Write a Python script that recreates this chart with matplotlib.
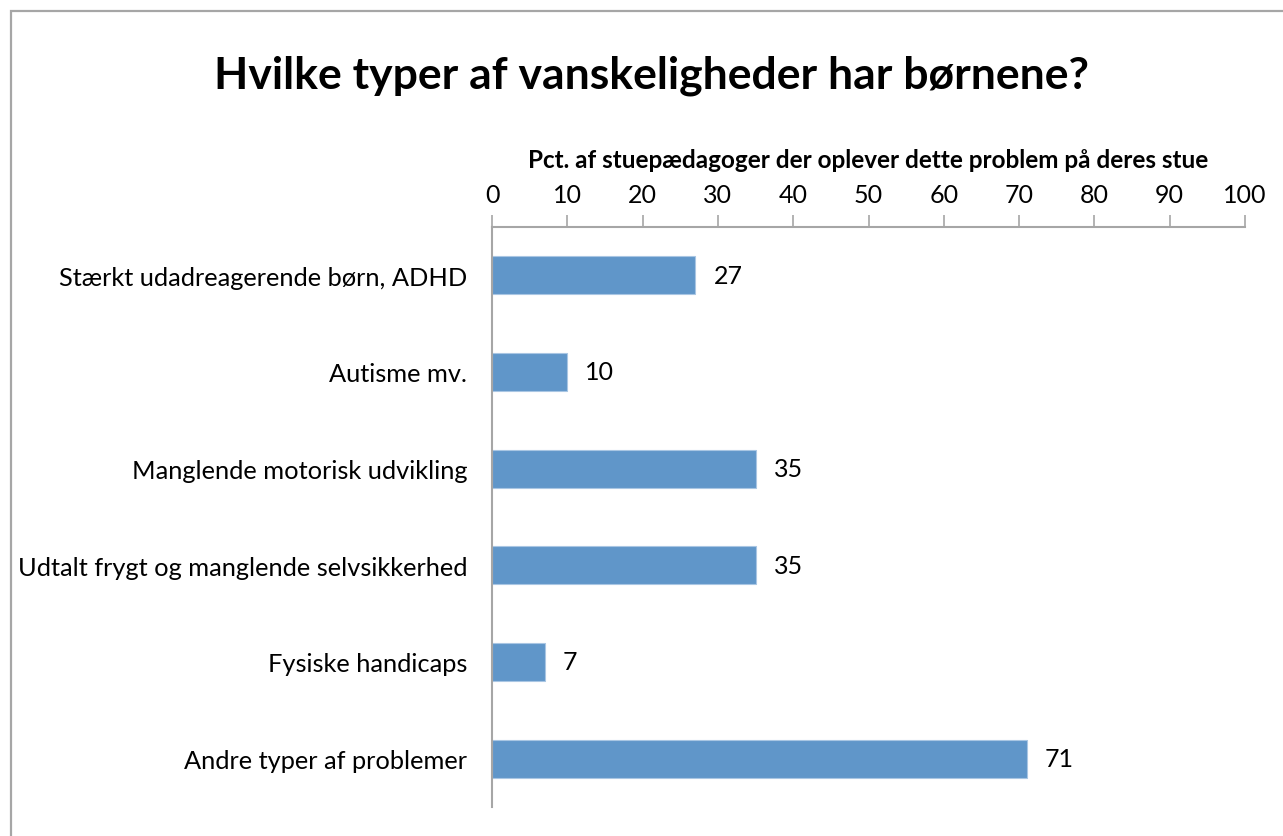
import matplotlib
matplotlib.use('Agg')
import matplotlib.pyplot as plt
from matplotlib.patches import Rectangle

# Survey results: share of room pedagogues who see each problem
categories = [
    "Stærkt udadreagerende børn, ADHD",
    "Autisme mv.",
    "Manglende motorisk udvikling",
    "Udtalt frygt og manglende selvsikkerhed",
    "Fysiske handicaps",
    "Andre typer af problemer",
]
values = [27, 10, 35, 35, 7, 71]
x_ticks = [0, 10, 20, 30, 40, 50, 60, 70, 80, 90, 100]

title = "Hvilke typer af vanskeligheder har børnene?"
x_label = "Pct. af stuepædagoger der oplever dette problem på deres stue"

plt.rcParams['font.family'] = ['Lato', 'DejaVu Sans']

W, H = 1283, 837
fig = plt.figure(figsize=(W / 100, H / 100), dpi=100, facecolor='white')

# gray frame around the chart area (runs off the right and bottom edges)
fig.patches.append(Rectangle((11 / W, -0.1), 1.2, 1 - 12 / H + 0.1,
                             transform=fig.transFigure, fill=False,
                             edgecolor='#a6a6a6', linewidth=1.6))

ax = fig.add_axes([492 / W, 1 - 808 / H, (1245 - 492) / W, (808 - 228) / H])

pos = list(range(len(categories)))
bars = ax.barh(pos, values, height=0.39, color='#6096c9',
               edgecolor='#a9c6e3', linewidth=0.8)
for b, v in zip(bars, values):
    ax.text(b.get_width() + 2.4, b.get_y() + b.get_height() / 2, str(v),
            va='center', ha='left', fontsize=18, color='black')

ax.set_ylim(len(categories) - 0.5, -0.5)
ax.set_yticks(pos)
ax.set_yticklabels(categories, fontsize=18.3)
ax.tick_params(axis='y', length=0, pad=18)

ax.set_xlim(0, 100)
ax.set_xticks(x_ticks)
ax.xaxis.tick_top()
ax.xaxis.set_label_position('top')
ax.tick_params(axis='x', direction='out', length=9, width=1.2,
               color='#a6a6a6', labelsize=18, pad=6)
ax.set_xlabel(x_label, fontsize=17.5, fontweight='bold', labelpad=12)

for side in ['right', 'bottom']:
    ax.spines[side].set_visible(False)
for side in ['top', 'left']:
    ax.spines[side].set_color('#a6a6a6')
    ax.spines[side].set_linewidth(1.5)

fig.text(651 / W, 1 - 76 / H, title, ha='center', va='center',
         fontsize=32, fontweight='bold')

fig.savefig('out.png', dpi=100, facecolor='white')
